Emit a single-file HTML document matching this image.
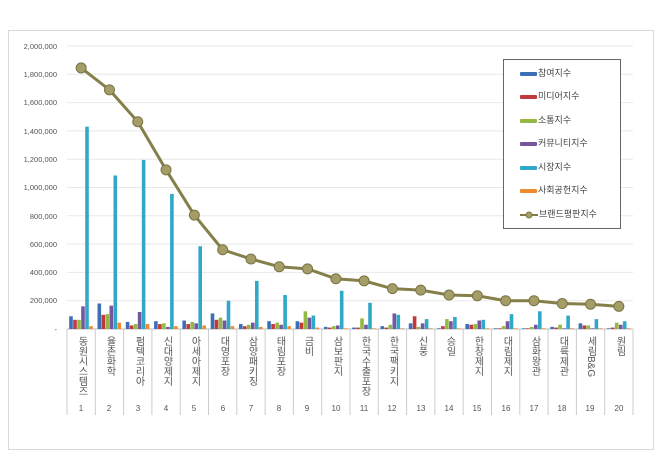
<!DOCTYPE html>
<html><head><meta charset="utf-8"><style>
body{margin:0;background:#fff;width:660px;height:457px;overflow:hidden;font-family:"Liberation Sans","Noto Sans CJK KR",sans-serif;}
.frame{position:absolute;left:8px;top:30px;width:644px;height:418px;border:1px solid #d9d9d9;}
.yl{position:absolute;right:603px;font-size:7.5px;color:#555;text-align:right;}
.cl{position:absolute;top:336px;width:28px;font-size:10px;color:#555;writing-mode:vertical-rl;text-orientation:upright;line-height:28px;letter-spacing:0px;height:80px;}
.nl{position:absolute;top:404px;width:28px;text-align:center;font-size:8px;color:#555;}
.leg{position:absolute;left:503px;top:59px;width:116px;height:168px;border:1px solid #666;background:#fff;}
.li{position:absolute;left:16px;font-size:9px;color:#444;height:12px;line-height:12px;}
.sw{display:inline-block;width:17px;height:4px;vertical-align:middle;margin-right:1px;border-radius:1px;}
</style></head><body>
<div class="frame"></div>
<svg id="s" width="660" height="457" style="position:absolute;left:0;top:0"></svg>
<div class="yl" style="top:42px">2,000,000</div>
<div class="yl" style="top:70px">1,800,000</div>
<div class="yl" style="top:98px">1,600,000</div>
<div class="yl" style="top:127px">1,400,000</div>
<div class="yl" style="top:155px">1,200,000</div>
<div class="yl" style="top:183px">1,000,000</div>
<div class="yl" style="top:212px">800,000</div>
<div class="yl" style="top:240px">600,000</div>
<div class="yl" style="top:268px">400,000</div>
<div class="yl" style="top:296px">200,000</div>
<div class="yl" style="top:325px">-</div>
<div class="cl" style="left:67px">동원시스템즈</div>
<div class="cl" style="left:95px">율촌화학</div>
<div class="cl" style="left:124px">펌텍코리아</div>
<div class="cl" style="left:152px">신대양제지</div>
<div class="cl" style="left:180px">아세아제지</div>
<div class="cl" style="left:209px">대영포장</div>
<div class="cl" style="left:237px">삼양패키징</div>
<div class="cl" style="left:265px">태림포장</div>
<div class="cl" style="left:293px">금비</div>
<div class="cl" style="left:322px">삼보판지</div>
<div class="cl" style="left:350px">한국수출포장</div>
<div class="cl" style="left:378px">한국팩키지</div>
<div class="cl" style="left:407px">신풍</div>
<div class="cl" style="left:435px">승일</div>
<div class="cl" style="left:463px">한창제지</div>
<div class="cl" style="left:492px">대림제지</div>
<div class="cl" style="left:520px">삼화왕관</div>
<div class="cl" style="left:548px">대륙제관</div>
<div class="cl" style="left:576px;text-orientation:mixed">세림B&amp;G</div>
<div class="cl" style="left:605px">원림</div>
<div class="nl" style="left:67px">1</div><div class="nl" style="left:95px">2</div><div class="nl" style="left:124px">3</div><div class="nl" style="left:152px">4</div><div class="nl" style="left:180px">5</div><div class="nl" style="left:209px">6</div><div class="nl" style="left:237px">7</div><div class="nl" style="left:265px">8</div><div class="nl" style="left:293px">9</div><div class="nl" style="left:322px">10</div><div class="nl" style="left:350px">11</div><div class="nl" style="left:378px">12</div><div class="nl" style="left:407px">13</div><div class="nl" style="left:435px">14</div><div class="nl" style="left:463px">15</div><div class="nl" style="left:492px">16</div><div class="nl" style="left:520px">17</div><div class="nl" style="left:548px">18</div><div class="nl" style="left:576px">19</div><div class="nl" style="left:605px">20</div>
<div class="leg">
<div class="li" style="top:7px"><span class="sw" style="background:#3d6fb6"></span>참여지수</div>
<div class="li" style="top:30px"><span class="sw" style="background:#c0393b"></span>미디어지수</div>
<div class="li" style="top:54px"><span class="sw" style="background:#93b944"></span>소통지수</div>
<div class="li" style="top:77px"><span class="sw" style="background:#7556a0"></span>커뮤니티지수</div>
<div class="li" style="top:101px"><span class="sw" style="background:#30a9c6"></span>시장지수</div>
<div class="li" style="top:124px"><span class="sw" style="background:#ee8b2c"></span>사회공헌지수</div>
<div class="li" style="top:148px"><svg width="18" height="8" style="vertical-align:middle;margin-right:1px"><line x1="0" y1="4" x2="18" y2="4" stroke="#7f7a45" stroke-width="2"/><circle cx="9" cy="4" r="3" fill="#a59e6a" stroke="#7f7a45"/></svg>브랜드평판지수</div>
</div>
<script>
var s=document.getElementById('s'),h='';
var X0=67,W=28.3,Y0=329,K=28.3/200;
for(var i=0;i<10;i++){var y=Y0-(i+1)*28.3;h+='<line x1="67" x2="633" y1="'+y+'" y2="'+y+'" stroke="#e8e8e8"/>';}
h+='<line x1="67" x2="633" y1="329" y2="329" stroke="#bbb"/>';
for(i=0;i<=20;i++){var x=X0+i*W;h+='<line x1="'+x+'" x2="'+x+'" y1="329" y2="415" stroke="#ccc"/>';}
var d=[[90,65,65,160,1430,20],[180,100,105,165,1085,45],[50,25,35,120,1195,35],[55,35,40,15,955,20],[60,35,50,40,585,25],[110,65,80,60,200,20],[35,20,30,45,340,15],[55,35,45,30,240,20],[55,45,125,80,95,10],[15,10,20,25,270,5],[10,10,75,30,185,5],[20,10,30,110,100,5],[40,90,15,40,70,5],[5,20,70,55,85,5],[35,30,35,60,65,5],[5,5,20,55,105,5],[5,5,15,30,125,5],[15,10,30,5,95,5],[40,25,25,5,70,5],[5,10,45,30,55,5]];
var c=['#3d6fb6','#c0393b','#93b944','#7556a0','#30a9c6','#ee8b2c'];
for(i=0;i<20;i++)for(var j=0;j<6;j++){var v=d[i][j]*K;h+='<rect x="'+(X0+i*W+2.2+j*4)+'" y="'+(Y0-v)+'" width="3.6" height="'+v+'" fill="'+c[j]+'"/>';}
var L=[1845,1690,1465,1125,805,560,495,440,425,355,340,285,275,240,235,200,200,180,175,160],p='';
for(i=0;i<20;i++)p+=(X0+(i+.5)*W)+','+(Y0-L[i]*K)+' ';
h+='<polyline points="'+p+'" fill="none" stroke="#857f4a" stroke-width="3"/>';
for(i=0;i<20;i++)h+='<circle cx="'+(X0+(i+.5)*W)+'" cy="'+(Y0-L[i]*K)+'" r="5" fill="#a49d68" stroke="#7a7442" stroke-width="1"/>';
s.innerHTML=h;
</script>
</body></html>
